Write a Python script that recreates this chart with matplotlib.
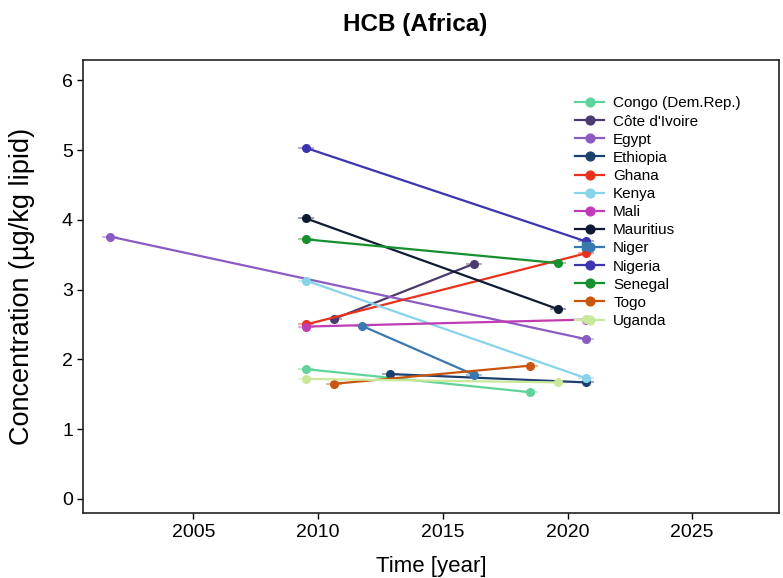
import matplotlib.pyplot as plt

plt.rcParams['font.family'] = ['Liberation Sans', 'DejaVu Sans']

countries = ['Congo (Dem.Rep.)', "Côte d'Ivoire", 'Egypt', 'Ethiopia', 'Ghana', 'Kenya',
             'Mali', 'Mauritius', 'Niger', 'Nigeria', 'Senegal', 'Togo', 'Uganda']
colors = ['#5fd39a', '#4b3a6e', '#8a5cc2', '#1c3f6e', '#e8321e', '#86d3ea',
          '#c03cb5', '#0f1a33', '#3a78b0', '#3d35b0', '#16902f', '#c9560e', '#c8e89a']

years = {
    'Congo (Dem.Rep.)': [2009, 2017],
    "Côte d'Ivoire": [2010, 2015],
    'Egypt': [2002, 2019],
    'Ethiopia': [2012, 2019],
    'Ghana': [2009, 2019],
    'Kenya': [2009, 2019],
    'Mali': [2009, 2019],
    'Mauritius': [2009, 2018],
    'Niger': [2011, 2015],
    'Nigeria': [2009, 2019],
    'Senegal': [2009, 2018],
    'Togo': [2010, 2017],
    'Uganda': [2009, 2018],
}
values = {
    'Congo (Dem.Rep.)': [1.86, 1.53],
    "Côte d'Ivoire": [2.58, 3.37],
    'Egypt': [3.76, 2.29],
    'Ethiopia': [1.79, 1.67],
    'Ghana': [2.50, 3.52],
    'Kenya': [3.13, 1.73],
    'Mali': [2.47, 2.57],
    'Mauritius': [4.02, 2.72],
    'Niger': [2.48, 1.78],
    'Nigeria': [5.03, 3.69],
    'Senegal': [3.72, 3.38],
    'Togo': [1.65, 1.91],
    'Uganda': [1.72, 1.67],
}
# single points without a connecting line
extra_points = {'Niger': (2019, 3.62), 'Uganda': (2019, 2.58)}

# tick labels sit where they appear in the original figure
xtick_labels = [2005, 2010, 2015, 2020, 2025]
xtick_pos = [2004.98, 2009.43, 2013.89, 2018.34, 2022.79]

fig = plt.figure(figsize=(7.83, 5.78), dpi=100)
ax = fig.add_axes([0.1064, 0.112, 0.8885, 0.7842])

for name, col in zip(countries, colors):
    x = years[name]
    y = values[name]
    ax.plot(x, y, color=col, lw=1.6, marker='o', markersize=5.5, label=name, zorder=3)
    ax.errorbar(x, y, xerr=0.3, fmt='none', ecolor=col, elinewidth=1.2, alpha=0.5, capsize=0)
    if name in extra_points:
        px, py = extra_points[name]
        ax.plot([px], [py], color=col, marker='s' if name == 'Niger' else 'o',
                markersize=5.5, zorder=5)

ax.set_xlim(2001.05, 2025.89)
ax.set_ylim(-0.205, 6.29)
ax.set_xticks(xtick_pos)
ax.set_xticklabels([str(v) for v in xtick_labels])
ax.set_yticks(range(0, 7))
ax.tick_params(axis='both', labelsize=14, length=4, width=1, colors='black')

for s in ax.spines.values():
    s.set_linewidth(1.2)
    s.set_color('#222222')

ax.set_xlabel('Time [year]', fontsize=16, labelpad=11)
ax.set_ylabel('Concentration (µg/kg lipid)', fontsize=19.5)
ax.yaxis.set_label_coords(-0.07, 0.5)
fig.suptitle('HCB (Africa)', fontsize=17.5, fontweight='bold', x=0.53, y=0.978)

ax.legend(loc='upper left', bbox_to_anchor=(0.687, 0.95), frameon=False, fontsize=11,
          handlelength=1.9, labelspacing=0.27, handletextpad=0.6, markerscale=1.15)

fig.savefig('out.png', dpi=100)
